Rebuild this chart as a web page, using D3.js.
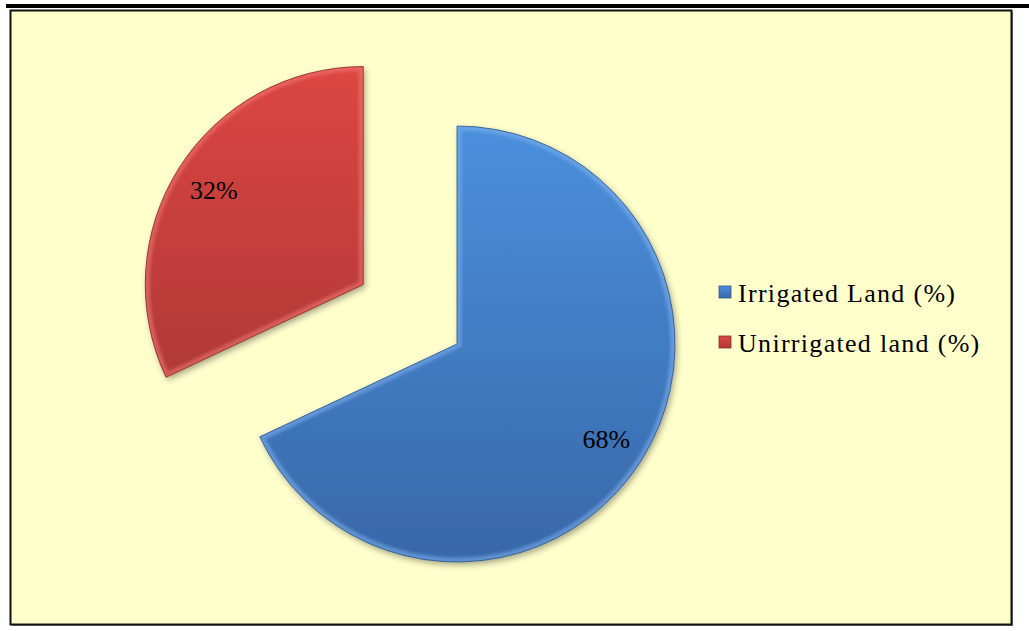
<!DOCTYPE html>
<html>
<head>
<meta charset="utf-8">
<script src="https://cdn.jsdelivr.net/npm/d3@7"></script>
<style>
  html, body { margin: 0; padding: 0; background: #ffffff; }
  svg { display: block; }
  text { font-family: "Liberation Serif", "Times New Roman", serif; fill: #000; }
</style>
</head>
<body>
<svg id="chart" width="1029" height="631"></svg>
<script>
// Land use shares
const categories = ["Irrigated Land (%)", "Unirrigated land (%)"];
const values = [68, 32];
const valueLabels = ["68%", "32%"];
const exploded = [false, true];

const palette = {
  "Irrigated Land (%)":   { top: "#4b90dc", bottom: "#3867a9", edge: "#2d558c", light: "#7fb3ee" },
  "Unirrigated land (%)": { top: "#dd4642", bottom: "#b03936", edge: "#8a2b29", light: "#f07a74" }
};

const svg = d3.select("#chart");
const W = 1029, H = 631;
const defs = svg.append("defs");

// page rule and chart frame
svg.append("rect").attr("x", 6).attr("y", 4).attr("width", W - 6).attr("height", 4).attr("fill", "#000");
svg.append("rect").attr("x", 12).attr("y", 12).attr("width", 1001).attr("height", 614).attr("fill", "#8a8a8a");
svg.append("rect").attr("x", 10.5).attr("y", 10.5).attr("width", 1001).attr("height", 614)
  .attr("fill", "#ffffcc").attr("stroke", "#111").attr("stroke-width", 2);

// gradients
categories.forEach((c, i) => {
  const g = defs.append("linearGradient").attr("id", "grad" + i)
    .attr("x1", 0).attr("y1", 0).attr("x2", 0).attr("y2", 1);
  g.append("stop").attr("offset", "0%").attr("stop-color", palette[c].top);
  g.append("stop").attr("offset", "100%").attr("stop-color", palette[c].bottom);
});

const shadow = defs.append("filter").attr("id", "shadow")
  .attr("x", "-10%").attr("y", "-10%").attr("width", "130%").attr("height", "130%");
shadow.append("feDropShadow").attr("dx", 2).attr("dy", 3).attr("stdDeviation", 3)
  .attr("flood-color", "#000").attr("flood-opacity", 0.35);

const soft = defs.append("filter").attr("id", "soft");
soft.append("feGaussianBlur").attr("stdDeviation", 1.6);

const cx = 457, cy = 344, r = 218, explodeDist = 111;

const pie = d3.pie().sort(null).value(d => d.value).startAngle(0).endAngle(2 * Math.PI);
const data = pie(categories.map((c, i) => ({ name: c, value: values[i], label: valueLabels[i], exploded: exploded[i] })));

const arc = d3.arc().innerRadius(0).outerRadius(r);
const labelArc = d3.arc().innerRadius(177).outerRadius(177);

const pieG = svg.append("g").attr("transform", `translate(${cx},${cy})`);

const slices = pieG.selectAll("g.slice").data(data).join("g")
  .attr("class", "slice")
  .attr("transform", d => {
    if (!d.data.exploded) return null;
    const mid = (d.startAngle + d.endAngle) / 2;
    return `translate(${Math.sin(mid) * explodeDist},${-Math.cos(mid) * explodeDist})`;
  });

slices.each(function (d, i) {
  const g = d3.select(this);
  const p = arc(d);
  const clipId = "clip" + i;
  defs.append("clipPath").attr("id", clipId).append("path").attr("d", p);

  g.append("path").attr("d", p).attr("fill", `url(#grad${i})`).attr("filter", "url(#shadow)");
  // bevelled rim
  g.append("path").attr("d", p).attr("fill", "none")
    .attr("stroke", palette[d.data.name].light).attr("stroke-width", 9).attr("stroke-opacity", 0.55)
    .attr("clip-path", `url(#${clipId})`).attr("filter", "url(#soft)");
  g.append("path").attr("d", p).attr("fill", "none")
    .attr("stroke", palette[d.data.name].edge).attr("stroke-width", 1).attr("stroke-opacity", 0.8);

  const [lx, ly] = labelArc.centroid(d);
  g.append("text").attr("x", lx).attr("y", ly).attr("dy", "0.35em")
    .attr("text-anchor", "middle").attr("font-size", 26).text(d.data.label);
});

// legend
const legend = svg.append("g").attr("transform", "translate(719,286)");
const items = legend.selectAll("g").data(categories).join("g")
  .attr("transform", (d, i) => `translate(0,${i * 50})`);
items.append("rect").attr("width", 12).attr("height", 12)
  .attr("fill", (d, i) => `url(#grad${i})`)
  .attr("stroke", d => palette[d].edge).attr("stroke-width", 0.8);
items.append("text").attr("x", 19).attr("y", 16).attr("font-size", 26)
  .attr("letter-spacing", 1.3).text(d => d);
</script>
</body>
</html>
